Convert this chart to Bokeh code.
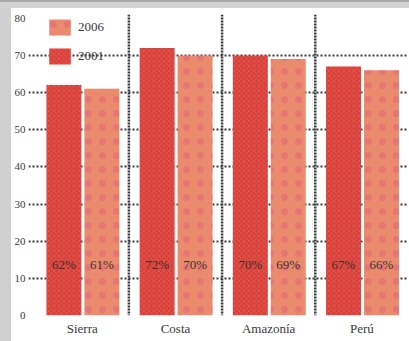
import numpy as np
from bokeh.plotting import figure
from bokeh.models import (ColumnDataSource, Range1d, FixedTicker, Span, Legend,
                          LegendItem, Div)
from bokeh.layouts import column, row
from bokeh.core.properties import value
from bokeh.embed import file_html
from bokeh.resources import INLINE

# Data: share by region, two survey years
regions = ["Sierra", "Costa", "Amazonía", "Perú"]
pct_2001 = [62, 72, 70, 67]
pct_2006 = [61, 70, 69, 66]
y_ticks = [0, 10, 20, 30, 40, 50, 60, 70, 80]

SERIF = "Liberation Serif"
C2001 = "#d9403d"
C2006 = "#ea8b6e"

centers = np.arange(len(regions)) + 0.5
src = ColumnDataSource(dict(
    x01=centers - 0.197,
    x06=centers + 0.21,
    v01=pct_2001,
    v06=pct_2006,
    t01=[f"{v}%" for v in pct_2001],
    t06=[f"{v}%" for v in pct_2006],
))

p = figure(width=398, height=333, output_backend="svg", toolbar_location=None,
           x_range=Range1d(-0.077, 4.0), y_range=Range1d(0, 81),
           min_border_left=16, min_border_right=1, min_border_top=6,
           min_border_bottom=26, background_fill_color="white",
           border_fill_color="white")
p.outline_line_color = None

r01 = p.vbar(x="x01", top="v01", width=0.375, source=src, fill_color=C2001,
             line_color=None, hatch_pattern="x", hatch_scale=5,
             hatch_color="#f59a62", hatch_alpha=0.4, hatch_weight=0.6)
r06 = p.vbar(x="x06", top="v06", width=0.375, source=src, fill_color=C2006,
             line_color=None, hatch_pattern=".", hatch_scale=14,
             hatch_color="#e2587c", hatch_alpha=0.4, hatch_weight=0.5)

# value labels inside the bars
for xcol, tcol in (("x01", "t01"), ("x06", "t06")):
    p.text(x=xcol, y=13.7, text=tcol, source=src, text_align="center",
           text_baseline="middle", text_font=value(SERIF),
           text_font_size="13px", text_color="#3f2e2e")

# dotted grid
p.ygrid.ticker = FixedTicker(ticks=y_ticks[1:-1])
p.ygrid.grid_line_color = "#3a3a3a"
p.ygrid.grid_line_dash = "2 2"
p.ygrid.grid_line_width = 1.8
p.ygrid.level = "underlay"
p.xgrid.grid_line_color = None
for b in range(1, len(regions)):
    p.add_layout(Span(location=b, dimension="height", line_color="#3a3a3a",
                      line_dash="2 1", line_width=2.5, level="underlay"))

# axes
p.yaxis.ticker = FixedTicker(ticks=y_ticks)
p.xaxis.ticker = FixedTicker(ticks=list(centers))
p.xaxis.major_label_overrides = {float(c): r for c, r in zip(centers, regions)}
for ax in (p.xaxis, p.yaxis):
    ax.axis_line_color = None
    ax.major_tick_line_color = None
    ax.minor_tick_line_color = None
    ax.major_tick_out = 0
    ax.major_tick_in = 0
    ax.major_label_text_font = SERIF
    ax.major_label_text_color = "#3a3a3a"
p.yaxis.major_label_text_font_size = "11px"
p.yaxis.major_label_standoff = 3
p.xaxis.major_label_text_font_size = "13px"
p.xaxis.major_label_standoff = 5

legend = Legend(items=[LegendItem(label="2006", renderers=[r06]),
                       LegendItem(label="2001", renderers=[r01])],
                location=(18, 249), orientation="vertical",
                glyph_width=27, glyph_height=20, spacing=9, padding=0,
                margin=0, label_standoff=5, label_height=20,
                background_fill_alpha=0, border_line_alpha=0,
                label_text_font=SERIF, label_text_font_size="13px",
                label_text_color="#3a3a3a")
p.add_layout(legend)

top_bar = Div(width=409, height=8, margin=0,
              styles={"background-color": "#d3d3d3",
                      "border-top": "2px solid #a9a9a9",
                      "box-sizing": "border-box"})
left_bar = Div(width=11, height=333, margin=0,
               styles={"background-color": "#d0d0d0"})

layout = column(top_bar, row(left_bar, p, spacing=0), spacing=0)

open("out.html", "w").write(file_html(layout, INLINE))
